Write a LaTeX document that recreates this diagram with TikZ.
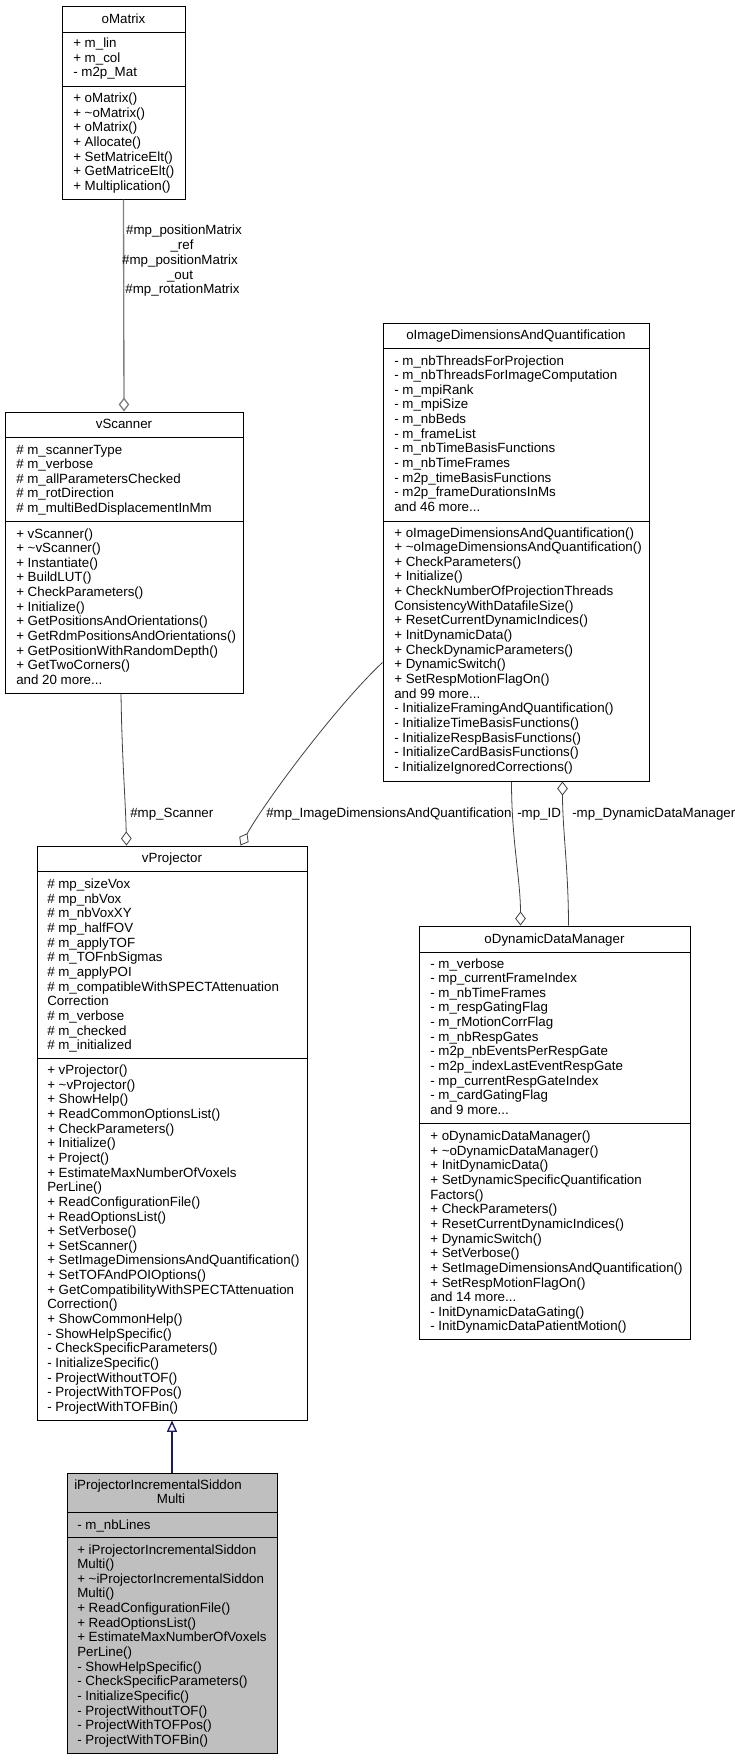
\documentclass[tikz,border=0pt]{standalone}
\usepackage{fontspec}
\setmainfont{Liberation Sans}
\usetikzlibrary{fit,calc,arrows.meta}
\definecolor{edgegray}{HTML}{808080}
\definecolor{edgedark}{HTML}{404040}
\definecolor{inhblue}{HTML}{191970}
\definecolor{leafgray}{HTML}{BFBFBF}
\newcommand\clines[4]{%
  \foreach \itemtext [count=\i from 0] in {#4} {%
    \node[txt] (#1-\i) at (#2,{#3+\i*14.65}) {\itemtext};}}
\begin{document}
\begin{tikzpicture}[x=0.75pt,y=-0.75pt,
  every node/.style={font=\fontsize{10pt}{12pt}\selectfont},
  classbox/.style={draw=black, line width=0.75pt, inner sep=0pt, fill=white},
  leafbox/.style={classbox, fill=leafgray},
  txt/.style={anchor=base west, inner sep=0pt},
  ttl/.style={anchor=base, inner sep=0pt},
  sepline/.style={draw=black, line width=0.75pt},
  use/.style={draw=edgedark, line width=0.6pt, -{Diamond[length=10.5pt,width=8pt,fill=white]}},
  useg/.style={use, draw=edgegray, line width=1pt},
  inh/.style={draw=inhblue, line width=1pt, -{Triangle[open,length=8.5pt,width=7.5pt]}},
  elabel/.style={anchor=base west, inner sep=0pt},
  clabel/.style={anchor=base, inner sep=0pt}]
\useasboundingbox (0,0) rectangle (735,1760);

% ---------------- oMatrix
\node[classbox, fit={(62,6) (185,199)}] (oM) {};
\draw[sepline] (62,32) -- (185,32) (62,86) -- (185,86);
\node[ttl] (oMt) at (123.5,23.5) {oMatrix};
\clines{oMa}{73}{47.5}{+ m\_lin, + m\_col, - m2p\_Mat}
\clines{oMm}{73}{102.5}{+ oMatrix(), + \textasciitilde oMatrix(), + oMatrix(), + Allocate(), + SetMatriceElt(), + GetMatriceElt(), + Multiplication()}

% ---------------- vScanner
\node[classbox, fit={(5,412) (243,693)}] (vS) {};
\draw[sepline] (5,437) -- (243,437) (5,521) -- (243,521);
\node[ttl] (vSt) at (124,428.5) {vScanner};
\clines{vSa}{16}{454}{\# m\_scannerType, \# m\_verbose, \# m\_allParametersChecked, \# m\_rotDirection, \# m\_multiBedDisplacementInMm}
\clines{vSm}{16}{538}{+ vScanner(), + \textasciitilde vScanner(), + Instantiate(), + BuildLUT(), + CheckParameters(), + Initialize(), + GetPositionsAndOrientations(), + GetRdmPositionsAndOrientations(), + GetPositionWithRandomDepth(), + GetTwoCorners(), and 20 more.{}.{}.}

% ---------------- oImageDimensionsAndQuantification
\node[classbox, fit={(383,323) (649,781)}] (oI) {};
\draw[sepline] (383,348) -- (649,348) (383,521) -- (649,521);
\node[ttl] (oIt) at (516,339.5) {oImageDimensionsAndQuantification};
\clines{oIa}{394}{365}{- m\_nbThreadsForProjection, - m\_nbThreadsForImageComputation, - m\_mpiRank, - m\_mpiSize, - m\_nbBeds, - m\_frameList, - m\_nbTimeBasisFunctions, - m\_nbTimeFrames, - m2p\_timeBasisFunctions, - m2p\_frameDurationsInMs, and 46 more.{}.{}.}
\clines{oIm}{394}{537}{+ oImageDimensionsAndQuantification(), + \textasciitilde oImageDimensionsAndQuantification(), + CheckParameters(), + Initialize(), + CheckNumberOfProjectionThreads, ConsistencyWithDatafileSize(), + ResetCurrentDynamicIndices(), + InitDynamicData(), + CheckDynamicParameters(), + DynamicSwitch(), + SetRespMotionFlagOn(), and 99 more.{}.{}., - InitializeFramingAndQuantification(), - InitializeTimeBasisFunctions(), - InitializeRespBasisFunctions(), - InitializeCardBasisFunctions(), - InitializeIgnoredCorrections()}

% ---------------- oDynamicDataManager
\node[classbox, fit={(419,926) (690,1339)}] (oD) {};
\draw[sepline] (419,952) -- (690,952) (419,1123) -- (690,1123);
\node[ttl] (oDt) at (554.5,943.5) {oDynamicDataManager};
\clines{oDa}{430}{968}{- m\_verbose, - mp\_currentFrameIndex, - m\_nbTimeFrames, - m\_respGatingFlag, - m\_rMotionCorrFlag, - m\_nbRespGates, - m2p\_nbEventsPerRespGate, - m2p\_indexLastEventRespGate, - mp\_currentRespGateIndex, - m\_cardGatingFlag, and 9 more.{}.{}.}
\clines{oDm}{430}{1140.5}{+ oDynamicDataManager(), + \textasciitilde oDynamicDataManager(), + InitDynamicData(), + SetDynamicSpecificQuantification, Factors(), + CheckParameters(), + ResetCurrentDynamicIndices(), + DynamicSwitch(), + SetVerbose(), + SetImageDimensionsAndQuantification(), + SetRespMotionFlagOn(), and 14 more.{}.{}., - InitDynamicDataGating(), - InitDynamicDataPatientMotion()}

% ---------------- vProjector
\node[classbox, fit={(37,846) (307,1420)}] (vP) {};
\draw[sepline] (37,871) -- (307,871) (37,1058) -- (307,1058);
\node[ttl] (vPt) at (172,862.5) {vProjector};
\clines{vPa}{47}{888.5}{\# mp\_sizeVox, \# mp\_nbVox, \# m\_nbVoxXY, \# mp\_halfFOV, \# m\_applyTOF, \# m\_TOFnbSigmas, \# m\_applyPOI, \# m\_compatibleWithSPECTAttenuation, Correction, \# m\_verbose, \# m\_checked, \# m\_initialized}
\clines{vPm}{47}{1074.5}{+ vProjector(), + \textasciitilde vProjector(), + ShowHelp(), + ReadCommonOptionsList(), + CheckParameters(), + Initialize(), + Project(), + EstimateMaxNumberOfVoxels, PerLine(), + ReadConfigurationFile(), + ReadOptionsList(), + SetVerbose(), + SetScanner(), + SetImageDimensionsAndQuantification(), + SetTOFAndPOIOptions(), + GetCompatibilityWithSPECTAttenuation, Correction(), + ShowCommonHelp(), - ShowHelpSpecific(), - CheckSpecificParameters(), - InitializeSpecific(), - ProjectWithoutTOF(), - ProjectWithTOFPos(), - ProjectWithTOFBin()}

% ---------------- iProjectorIncrementalSiddonMulti
\node[leafbox, fit={(67,1473) (277,1753)}] (iP) {};
\draw[sepline] (67,1512) -- (277,1512) (67,1537) -- (277,1537);
\node[ttl] (iPt1) at (158,1489.5) {iProjectorIncrementalSiddon};
\node[ttl] (iPt2) at (171,1503) {Multi};
\clines{iPa}{77}{1529}{- m\_nbLines}
\clines{iPm}{77}{1554}{+ iProjectorIncrementalSiddon, Multi(), + \textasciitilde iProjectorIncrementalSiddon, Multi(), + ReadConfigurationFile(), + ReadOptionsList(), + EstimateMaxNumberOfVoxels, PerLine(), - ShowHelpSpecific(), - CheckSpecificParameters(), - InitializeSpecific(), - ProjectWithoutTOF(), - ProjectWithTOFPos(), - ProjectWithTOFBin()}

% ---------------- connectors
\draw[useg] (oM.south) -- (vS.north);
\node[clabel] (l1) at (184,234.5) {\#mp\_positionMatrix};
\node[clabel] (l2) at (182,249.5) {\_ref};
\node[clabel] (l3) at (180,264.5) {\#mp\_positionMatrix};
\node[clabel] (l4) at (180,279) {\_out};
\node[clabel] (l5) at (182.5,293.5) {\#mp\_rotationMatrix};

\draw[use] ($(vS.south)+(-3,0)$) .. controls +(1,67) and +(-1,-46) .. ($(vP.north west)+(90,0)$);
\node[elabel] (lS) at (130,817.5) {\#mp\_Scanner};

\draw[use] ($(oI.north west)+(0,340)$) .. controls +(-43,40) and +(27,-48) .. ($(vP.north west)+(204,0)$);
\node[elabel] (lI) at (266,817.5) {\#mp\_ImageDimensionsAndQuantification};

\draw[use] ($(oI.south west)+(129,0)$) .. controls +(0,59) and +(0,-46) .. ($(oD.north west)+(102,0)$);
\node[elabel] (lID) at (517,817.5) {-mp\_ID};

\draw[use] ($(oD.north west)+(150,0)$) .. controls +(0,-56) and +(0,49) .. ($(oI.south west)+(180,0)$);
\node[elabel] (lDM) at (572,817.5) {-mp\_DynamicDataManager};

\draw[inh] (iP.north) -- (vP.south);
\end{tikzpicture}
\end{document}
